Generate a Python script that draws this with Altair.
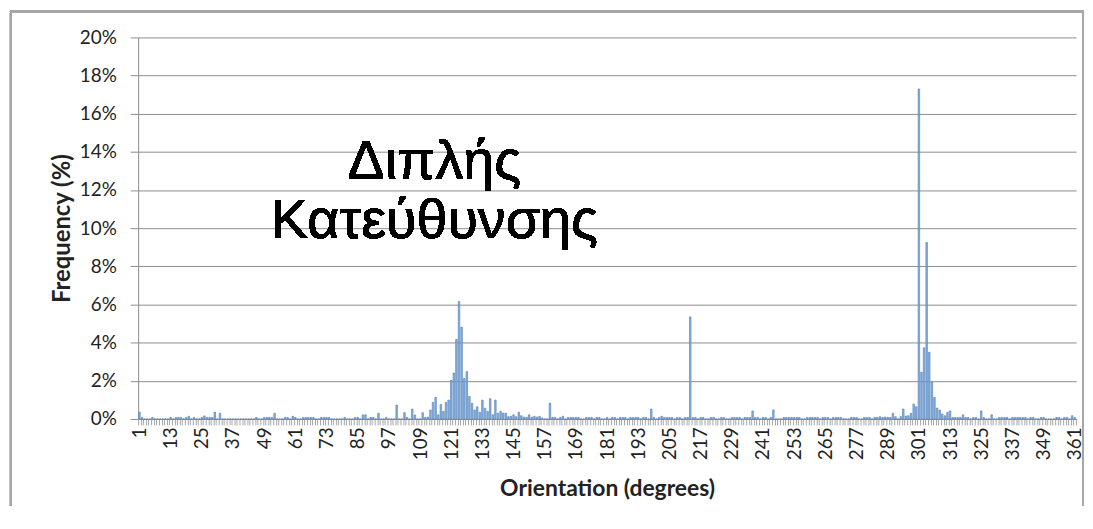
import altair as alt
import pandas as pd

# Orientation categories 1..361 (degrees)
degrees = list(range(1, 362))

# Frequency (%) per orientation, read row by row (12 categories per row)
freq_rows = [
    [0.36, 0.08, 0, 0, 0, 0.08, 0, 0, 0, 0, 0, 0],                                  # 1-12
    [0.08, 0, 0.08, 0.08, 0.08, 0, 0.08, 0.14, 0, 0.08, 0, 0],                      # 13-24
    [0.08, 0.16, 0.08, 0.08, 0.08, 0.36, 0, 0.3, 0, 0, 0, 0],                       # 25-36
    [0, 0, 0, 0, 0, 0, 0, 0, 0, 0.08, 0, 0],                                        # 37-48
    [0.08, 0.08, 0.08, 0.08, 0.3, 0, 0, 0, 0.08, 0.08, 0, 0.14],                    # 49-60
    [0.08, 0, 0, 0.08, 0.08, 0.08, 0.08, 0.08, 0, 0, 0.08, 0.08],                   # 61-72
    [0.08, 0.08, 0, 0, 0, 0, 0, 0.08, 0, 0, 0, 0.08],                               # 73-84
    [0.08, 0, 0.21, 0.22, 0, 0.08, 0.08, 0, 0.3, 0, 0, 0.08],                       # 85-96
    [0, 0, 0, 0.73, 0, 0, 0.33, 0.08, 0, 0.52, 0.21, 0],                            # 97-108
    [0, 0.33, 0.08, 0.1, 0.47, 0.87, 1.13, 0.22, 0.76, 0.4, 0.87, 0.99],            # 109-120
    [2.03, 2.41, 4.17, 6.16, 4.81, 2.12, 2.48, 1.18, 0.82, 0.47, 0.64, 0.35],       # 121-132
    [0.99, 0.57, 0.4, 1.06, 0.22, 0.99, 0.3, 0.4, 0.31, 0.3, 0.12, 0.14],           # 133-144
    [0.22, 0.12, 0.35, 0.17, 0.1, 0.09, 0.22, 0.09, 0.14, 0.1, 0.14, 0.05],         # 145-156
    [0, 0, 0.83, 0.08, 0.08, 0, 0.08, 0.14, 0, 0.08, 0.08, 0.08],                   # 157-168
    [0.08, 0.08, 0, 0, 0.08, 0.08, 0.08, 0, 0.08, 0.08, 0, 0],                      # 169-180
    [0.08, 0, 0.08, 0.08, 0, 0.08, 0.08, 0.08, 0, 0.08, 0.08, 0.08],                # 181-192
    [0.08, 0, 0.08, 0.08, 0, 0.52, 0.08, 0, 0.08, 0.14, 0.08, 0.08],                # 193-204
    [0.08, 0.08, 0, 0.08, 0.08, 0, 0.08, 0.08, 5.35, 0.08, 0.08, 0],                # 205-216
    [0.08, 0.08, 0, 0, 0.08, 0.08, 0, 0, 0.08, 0.08, 0, 0],                         # 217-228
    [0.08, 0.08, 0.08, 0.08, 0, 0.08, 0.08, 0.08, 0.42, 0.08, 0.08, 0],             # 229-240
    [0.08, 0.08, 0, 0.08, 0.47, 0, 0, 0, 0.08, 0.08, 0.08, 0.08],                   # 241-252
    [0.08, 0.08, 0.08, 0, 0, 0.08, 0.08, 0.08, 0.08, 0.08, 0, 0.08],                # 253-264
    [0.08, 0.08, 0, 0.08, 0.08, 0.08, 0.08, 0, 0, 0, 0.08, 0.08],                   # 265-276
    [0.08, 0, 0, 0.08, 0.08, 0.08, 0, 0.08, 0.08, 0.12, 0.08, 0.1],                 # 277-288
    [0.08, 0.08, 0.3, 0.12, 0, 0.12, 0.52, 0.15, 0.17, 0.3, 0.78, 0.64],            # 289-300
    [17.3, 2.45, 3.73, 9.25, 3.5, 1.94, 1.13, 0.57, 0.47, 0.26, 0.17, 0.35],        # 301-312
    [0.42, 0.08, 0.08, 0.08, 0.08, 0.22, 0.08, 0.08, 0, 0.08, 0.08, 0],             # 313-324
    [0.42, 0.08, 0, 0, 0.22, 0, 0, 0.08, 0.08, 0.08, 0.08, 0],                      # 325-336
    [0.08, 0.08, 0.08, 0.08, 0.08, 0.08, 0, 0.08, 0.08, 0, 0, 0.08],                # 337-348
    [0.08, 0, 0, 0, 0, 0.08, 0.08, 0, 0.08, 0.08, 0, 0.17],                         # 349-360
    [0.08],                                                                         # 361
]
frequency = [v for row in freq_rows for v in row]

y_ticks = [0, 2, 4, 6, 8, 10, 12, 14, 16, 18, 20]
annotation_lines = ["Διπλής", "Κατεύθυνσης"]

df = pd.DataFrame({"deg": degrees, "freq": frequency})

FONT = "Lato"
GRID = "#8C8C8C"

W, H = 944, 384

frame = alt.Chart(df).mark_rect(
    fillOpacity=0, stroke="#A6A6A6", strokeWidth=2
).encode(
    x=alt.value(-128), x2=alt.value(951), y=alt.value(-26), y2=alt.value(490)
)

bars = alt.Chart(df).mark_bar(
    fill="#8DB0DD", stroke="#4A7EBB", strokeWidth=0.6,
    width=alt.RelativeBandSize(0.6)
).encode(
    x=alt.X(
        "deg:O",
        scale=alt.Scale(paddingInner=0, paddingOuter=0),
        axis=alt.Axis(
            title="Orientation (degrees)",
            labelExpr="(datum.value - 1) % 12 == 0 ? datum.label : ''",
            labelAngle=270,
            labelOverlap=False,
            labelFont=FONT, labelFontSize=19, labelColor="#222222",
            labelPadding=2,
            tickBand="extent", tickSize=6, tickColor="#A6A6A6",
            domainColor=GRID,
            titleFont=FONT, titleFontSize=23, titleFontWeight="bold",
            titleColor="#222222", titlePadding=18,
        ),
    ),
    y=alt.Y(
        "freq:Q",
        scale=alt.Scale(domain=[0, 20], nice=False),
        axis=alt.Axis(
            title="Frequency (%)",
            values=y_ticks,
            labelExpr="datum.value + '%'",
            labelFont=FONT, labelFontSize=19, labelColor="#222222",
            labelPadding=14,
            tickSize=8, tickColor=GRID,
            domainColor=GRID,
            grid=True, gridColor=GRID, gridWidth=1,
            titleFont=FONT, titleFontSize=24, titleFontWeight="bold",
            titleColor="#222222", titlePadding=5,
        ),
    ),
)

note = alt.Chart(df).mark_text(
    text=annotation_lines, font="Liberation Sans", fontSize=56,
    lineHeight=60, align="center", baseline="alphabetic", color="#000000"
).encode(
    x=alt.value(298), y=alt.value(142)
)

chart = alt.layer(frame, bars, note).properties(
    width=W, height=H,
    autosize=alt.AutoSizeParams(type="none"),
    padding={"left": 131, "top": 28, "right": 9, "bottom": 86},
).configure_view(strokeWidth=0)

chart.save("out.html", embed_options={"renderer": "svg", "actions": False})
